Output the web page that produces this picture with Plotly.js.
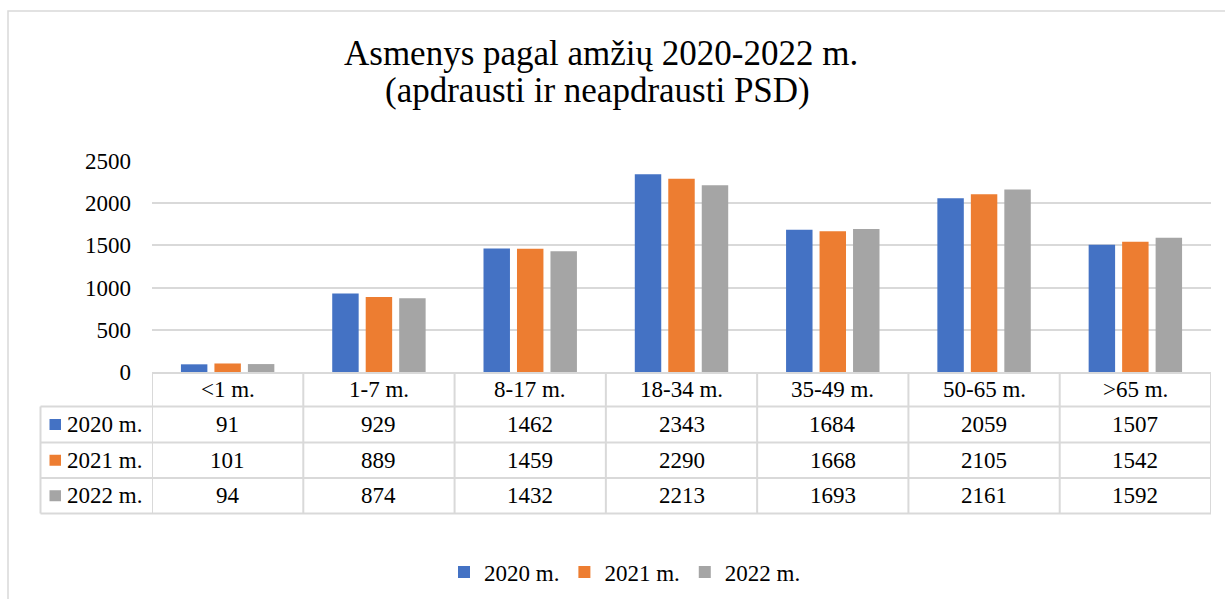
<!DOCTYPE html>
<html>
<head>
<meta charset="utf-8">
<script src="https://cdn.plot.ly/plotly-3.0.1.min.js"></script>
<style>html,body{margin:0;padding:0;background:#fff;}#chart{width:1225px;height:599px;}</style>
</head>
<body>
<div id="chart"></div>
<script>
const categories = ['<1 m.', '1-7 m.', '8-17 m.', '18-34 m.', '35-49 m.', '50-65 m.', '>65 m.'];
const seriesNames = ['2020 m.', '2021 m.', '2022 m.'];
const values2020 = [91, 929, 1462, 2343, 1684, 2059, 1507];
const values2021 = [101, 889, 1459, 2290, 1668, 2105, 1542];
const values2022 = [94, 874, 1432, 2213, 1693, 2161, 1592];
const yTicks = [0, 500, 1000, 1500, 2000, 2500];
const titleLine1 = 'Asmenys pagal amžių 2020-2022 m.';
const titleLine2 = '(apdrausti ir neapdrausti PSD)';

const allValues = [values2020, values2021, values2022];
const colors = ['#4472C4', '#ED7D31', '#A5A5A5'];
const W = 1225, H = 599;
const px = x => x / W;
const py = y => 1 - y / H;
const FONT = 'Liberation Serif, Times New Roman, serif';
const lineColor = '#d9d9d9';

const traces = allValues.map((vals, i) => ({
  type: 'bar',
  name: seriesNames[i],
  x: categories,
  y: vals,
  marker: {color: colors[i]},
  hoverinfo: 'x+y+name'
}));

const shapes = [];
const annotations = [];

// outer border
shapes.push({type: 'rect', xref: 'paper', yref: 'paper', x0: px(8), y0: py(11), x1: 1.02, y1: -0.02,
  line: {color: lineColor, width: 1.5}, fillcolor: 'rgba(0,0,0,0)', layer: 'below'});

// titles
annotations.push({xref: 'paper', yref: 'paper', x: px(601), y: py(54), text: titleLine1, showarrow: false,
  xanchor: 'center', yanchor: 'middle', font: {family: FONT, size: 35, color: '#000'}});
annotations.push({xref: 'paper', yref: 'paper', x: px(597), y: py(90), text: titleLine2, showarrow: false,
  xanchor: 'center', yanchor: 'middle', font: {family: FONT, size: 35, color: '#000'}});

// table geometry (pixels)
const tableTop = 373, headerBottom = 406.5, rowBottoms = [442.5, 478, 513.5];
const tableLeft = 40.5, plotLeft = 152, plotRight = 1211;

// horizontal lines
shapes.push({type: 'line', xref: 'paper', yref: 'paper', x0: px(plotLeft), x1: px(plotRight), y0: py(tableTop), y1: py(tableTop), line: {color: lineColor, width: 2}});
[headerBottom].concat(rowBottoms).forEach(yy => {
  shapes.push({type: 'line', xref: 'paper', yref: 'paper', x0: px(tableLeft), x1: px(plotRight), y0: py(yy), y1: py(yy), line: {color: lineColor, width: 2}});
});
// left table edge
shapes.push({type: 'line', xref: 'paper', yref: 'paper', x0: px(tableLeft), x1: px(tableLeft), y0: py(headerBottom), y1: py(rowBottoms[2]), line: {color: lineColor, width: 2}});
// category boundaries
for (let j = 0; j <= categories.length; j++) {
  shapes.push({type: 'line', xref: 'x', yref: 'paper', x0: j - 0.5, x1: j - 0.5, y0: py(tableTop), y1: py(rowBottoms[2]), line: {color: lineColor, width: 2}});
}

// header labels
categories.forEach((c, j) => {
  annotations.push({xref: 'x', yref: 'paper', x: j, y: py((tableTop + headerBottom) / 2), text: c, showarrow: false,
    xanchor: 'center', yanchor: 'middle', font: {family: FONT, size: 23, color: '#000'}});
});

// rows
const rowTops = [headerBottom].concat(rowBottoms.slice(0, 2));
allValues.forEach((vals, i) => {
  const cy = (rowTops[i] + rowBottoms[i]) / 2;
  shapes.push({type: 'rect', xref: 'paper', yref: 'paper', x0: px(49.5), x1: px(61), y0: py(cy - 5.5), y1: py(cy + 5.5),
    line: {width: 0}, fillcolor: colors[i]});
  annotations.push({xref: 'paper', yref: 'paper', x: px(65), y: py(cy), text: seriesNames[i], showarrow: false,
    xanchor: 'left', yanchor: 'middle', font: {family: FONT, size: 23, color: '#000'}});
  vals.forEach((v, j) => {
    annotations.push({xref: 'x', yref: 'paper', x: j, y: py(cy), text: String(v), showarrow: false,
      xanchor: 'center', yanchor: 'middle', font: {family: FONT, size: 23, color: '#000'}});
  });
});

const layout = {
  width: W, height: H,
  margin: {l: 0, r: 0, t: 0, b: 0},
  paper_bgcolor: '#fff', plot_bgcolor: '#fff',
  barmode: 'group',
  bargap: 0.336,
  bargroupgap: 0.21,
  font: {family: FONT, size: 23, color: '#000'},
  xaxis: {
    type: 'category', domain: [px(plotLeft), px(plotRight)], range: [-0.5, categories.length - 0.5],
    showticklabels: false, showgrid: false, zeroline: false, showline: false, ticks: ''
  },
  yaxis: {
    domain: [py(372), py(161)], range: [0, 2500], tickvals: yTicks, ticktext: yTicks.map(String),
    showgrid: true, gridcolor: lineColor, gridwidth: 2, zeroline: false, showline: false,
    tickfont: {family: FONT, size: 23, color: '#000'}, ticklabelstandoff: 20
  },
  showlegend: true,
  legend: {
    orientation: 'h', x: px(444), xanchor: 'left', y: py(572), yanchor: 'middle',
    font: {family: FONT, size: 23, color: '#000'}, bgcolor: 'rgba(0,0,0,0)', traceorder: 'normal'
  },
  shapes: shapes,
  annotations: annotations
};

Plotly.newPlot('chart', traces, layout, {displayModeBar: false, staticPlot: true});
</script>
</body>
</html>
